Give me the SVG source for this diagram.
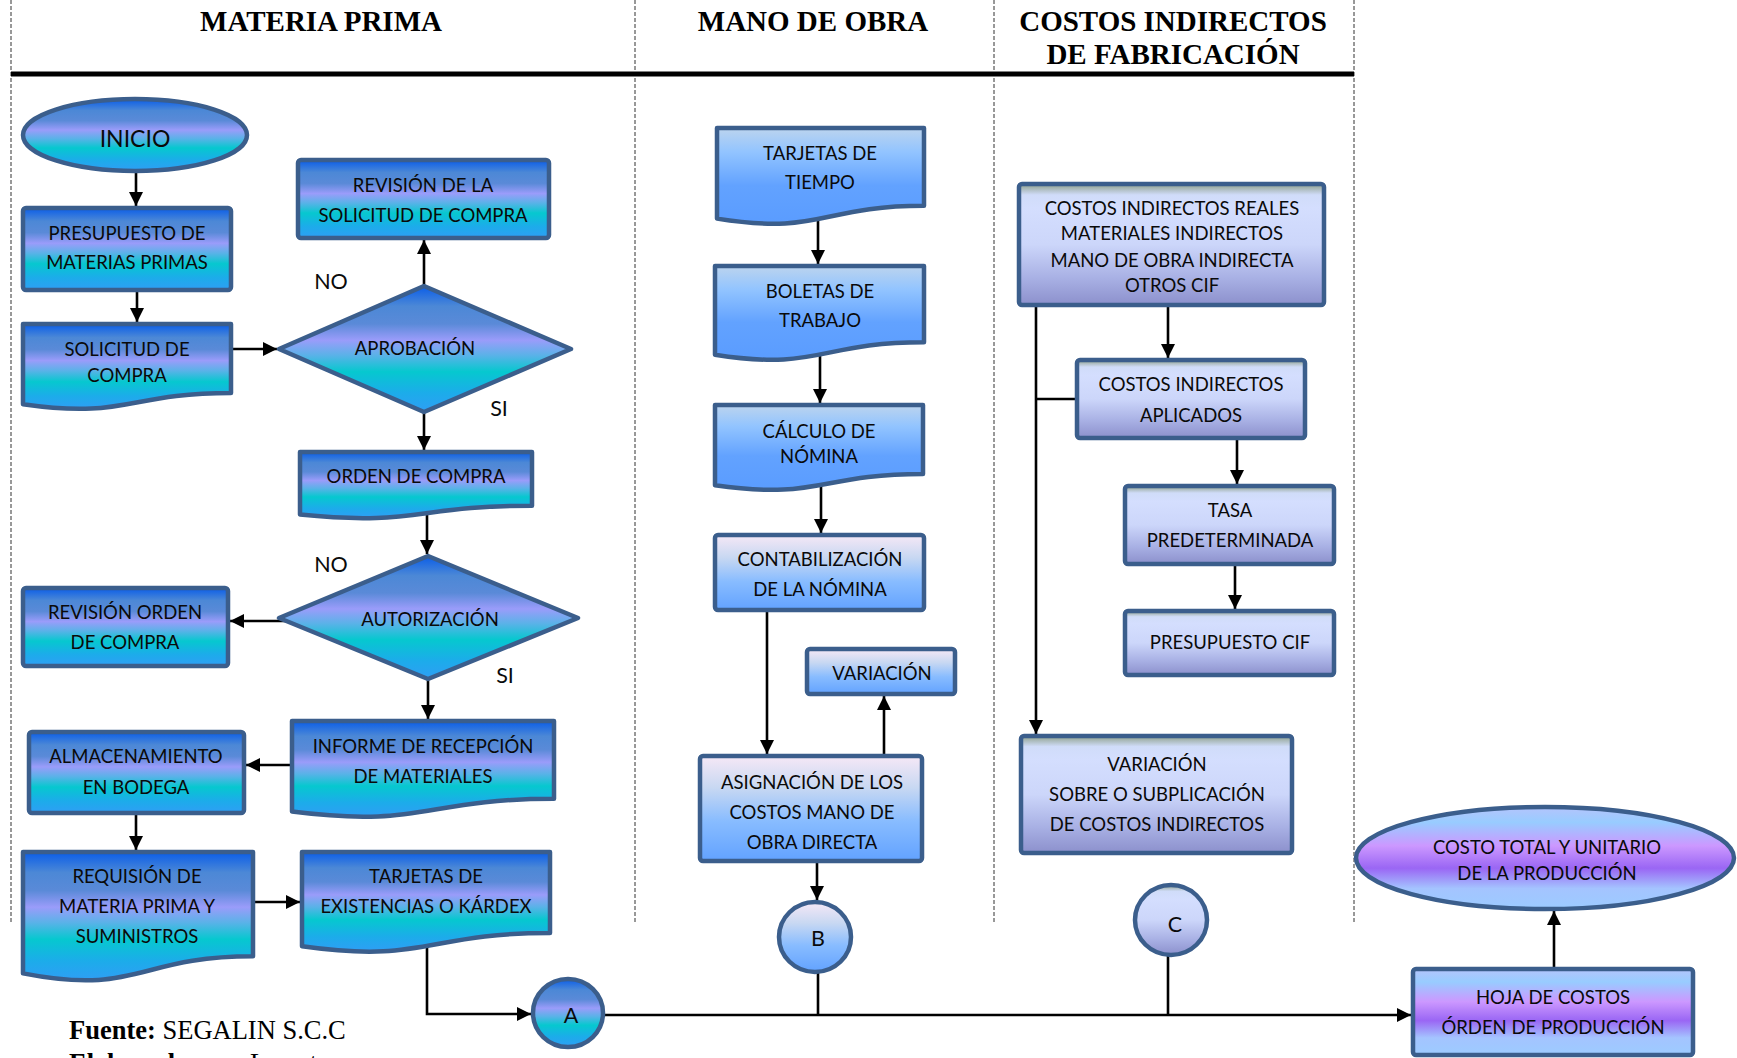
<svg xmlns="http://www.w3.org/2000/svg" width="1737" height="1058" viewBox="0 0 1737 1058">
  <defs>
    <!-- raw material lane: ocean blue / lavender / turquoise -->
    <linearGradient id="gMP" x1="0" y1="0" x2="0" y2="1">
      <stop offset="0" stop-color="#0a5de8"/>
      <stop offset="0.16" stop-color="#4c88d6"/>
      <stop offset="0.3" stop-color="#5a8ad8"/>
      <stop offset="0.43" stop-color="#9a9cfa"/>
      <stop offset="0.55" stop-color="#5ab2e8"/>
      <stop offset="0.68" stop-color="#06c8cf"/>
      <stop offset="0.85" stop-color="#1cacea"/>
      <stop offset="1" stop-color="#2f9ef5"/>
    </linearGradient>
    <!-- labour lane: light blue -->
    <linearGradient id="gMO1" x1="0" y1="0" x2="0" y2="1">
      <stop offset="0" stop-color="#bcd4ee"/>
      <stop offset="0.25" stop-color="#92c4ff"/>
      <stop offset="0.6" stop-color="#62a2ff"/>
      <stop offset="1" stop-color="#5a9cff"/>
    </linearGradient>
    <!-- labour lane: pale pink to blue -->
    <linearGradient id="gMO2" x1="0" y1="0" x2="0" y2="1">
      <stop offset="0" stop-color="#f6e8f6"/>
      <stop offset="0.3" stop-color="#c8d8f2"/>
      <stop offset="0.62" stop-color="#88bcff"/>
      <stop offset="1" stop-color="#62a2ff"/>
    </linearGradient>
    <!-- overhead lane: periwinkle -->
    <linearGradient id="gCIF" x1="0" y1="0" x2="0" y2="1">
      <stop offset="0" stop-color="#8ea08a"/>
      <stop offset="0.09" stop-color="#d0dcf9"/>
      <stop offset="0.2" stop-color="#d4defe"/>
      <stop offset="0.5" stop-color="#ccd6fa"/>
      <stop offset="0.78" stop-color="#a8b0e4"/>
      <stop offset="1" stop-color="#8c90cc"/>
    </linearGradient>
    <!-- totals: sky blue / violet -->
    <linearGradient id="gTOT" x1="0" y1="0" x2="0" y2="1">
      <stop offset="0" stop-color="#b4c4fc"/>
      <stop offset="0.15" stop-color="#98ccff"/>
      <stop offset="0.38" stop-color="#cc98ff"/>
      <stop offset="0.6" stop-color="#9a66f4"/>
      <stop offset="0.8" stop-color="#a4c4ff"/>
      <stop offset="1" stop-color="#9ccbff"/>
    </linearGradient>
    <marker id="arrow" markerUnits="userSpaceOnUse" markerWidth="15" markerHeight="15" refX="14" refY="7" orient="auto">
      <path d="M0,0 L14,7 L0,14 Z" fill="#000"/>
    </marker>
  </defs>
  <style>
    .node { stroke: #3b5e8c; stroke-width: 4.5; stroke-linejoin: round; }
    .mp { fill: url(#gMP); }
    .mo1 { fill: url(#gMO1); }
    .mo2 { fill: url(#gMO2); }
    .cif { fill: url(#gCIF); }
    .tot { fill: url(#gTOT); }
    .t { font-family: Lato, "Liberation Sans", sans-serif; font-size: 18.5px; fill: #0a0a0a; text-anchor: middle; }
    .big { font-size: 23px; }
    .lbl { font-family: Lato, "Liberation Sans", sans-serif; font-size: 21.5px; fill: #0a0a0a; text-anchor: middle; }
    .hdr { font-family: "Liberation Serif", "Times New Roman", serif; font-size: 29px; font-weight: bold; fill: #000; text-anchor: middle; }
    .note { font-family: "Liberation Serif", "Times New Roman", serif; font-size: 26.5px; fill: #000; }
    .lane { stroke: #333; stroke-width: 1; stroke-dasharray: 4 2; fill: none; }
    .conn { stroke: #000; stroke-width: 2.6; fill: none; }
    .conn.a { marker-end: url(#arrow); }
  </style>

  <rect width="1737" height="1058" fill="#fff"/>

  <!-- swimlane frame -->
  <g id="lanes">
    <line class="lane" x1="11" y1="0" x2="11" y2="923"/>
    <line class="lane" x1="635" y1="0" x2="635" y2="923"/>
    <line class="lane" x1="994" y1="0" x2="994" y2="923"/>
    <line class="lane" x1="1354" y1="0" x2="1354" y2="923"/>
    <line x1="11" y1="74" x2="1354" y2="74" stroke="#000" stroke-width="5"/>
    <text class="hdr" x="321" y="31">MATERIA PRIMA</text>
    <text class="hdr" x="813" y="31">MANO DE OBRA</text>
    <text class="hdr" x="1173" y="31">COSTOS INDIRECTOS</text>
    <text class="hdr" x="1173" y="64">DE FABRICACIÓN</text>
  </g>

  <!-- connectors -->
  <g id="connectors">
    <path class="conn a" d="M136 165 V206"/>
    <path class="conn a" d="M137 285 V322"/>
    <path class="conn a" d="M225 349 H277"/>
    <path class="conn a" d="M424 320 V240"/>
    <path class="conn a" d="M424 400 V450"/>
    <path class="conn a" d="M427 505 V554"/>
    <path class="conn a" d="M300 621 H230"/>
    <path class="conn a" d="M428 660 V719"/>
    <path class="conn a" d="M300 765 H246"/>
    <path class="conn a" d="M136 800 V850"/>
    <path class="conn a" d="M245 902 H300"/>
    <path class="conn a" d="M427 940 V1014 H531"/>
    <path class="conn a" d="M600 1015 H1411"/>
    <path class="conn" d="M818 965 V1015"/>
    <path class="conn" d="M1168 950 V1015"/>
    <path class="conn a" d="M1554 990 V911"/>
    <path class="conn a" d="M818 210 V264"/>
    <path class="conn a" d="M820 345 V403"/>
    <path class="conn a" d="M821 480 V533"/>
    <path class="conn a" d="M767 600 V754"/>
    <path class="conn a" d="M884 770 V696"/>
    <path class="conn a" d="M817 850 V900"/>
    <path class="conn a" d="M1168 300 V358"/>
    <path class="conn a" d="M1237 430 V484"/>
    <path class="conn a" d="M1235 560 V609"/>
    <path class="conn a" d="M1036 300 V734"/>
    <path class="conn" d="M1036 399 H1080"/>
  </g>

  <!-- raw material lane -->
  <g id="inicio">
    <ellipse class="node mp" cx="135" cy="135" rx="112" ry="36"/>
    <text class="t big" x="135" y="147">INICIO</text>
  </g>
  <g id="presupuesto-mp">
    <rect class="node mp" x="23" y="208" width="208" height="82" rx="3"/>
    <text class="t" x="127" y="240">PRESUPUESTO DE</text>
    <text class="t" x="127" y="269">MATERIAS PRIMAS</text>
  </g>
  <g id="solicitud-compra">
    <path class="node mp" d="M23 324 H231 V393 C127 393 127 419.2 23 404.3 Z"/>
    <text class="t" x="127" y="356">SOLICITUD DE</text>
    <text class="t" x="127" y="382">COMPRA</text>
  </g>
  <g id="revision-solicitud">
    <rect class="node mp" x="298" y="160" width="251" height="78" rx="3"/>
    <text class="t" x="423" y="192">REVISIÓN DE LA</text>
    <text class="t" x="423" y="222">SOLICITUD DE COMPRA</text>
  </g>
  <g id="aprobacion">
    <path class="node mp" d="M279 349 L424 286 L571 349 L424 412 Z"/>
    <text class="t" x="415" y="355">APROBACIÓN</text>
  </g>
  <g id="orden-compra">
    <path class="node mp" d="M300 452 H532 V505.7 C416 505.7 416 526.2 300 514.6 Z"/>
    <text class="t" x="416" y="483">ORDEN DE COMPRA</text>
  </g>
  <g id="autorizacion">
    <path class="node mp" d="M279 618 L428 556 L578 618 L428 679 Z"/>
    <text class="t" x="430" y="626">AUTORIZACIÓN</text>
  </g>
  <g id="revision-orden">
    <rect class="node mp" x="23" y="588" width="205" height="78" rx="3"/>
    <text class="t" x="125" y="619">REVISIÓN ORDEN</text>
    <text class="t" x="125" y="649">DE COMPRA</text>
  </g>
  <g id="informe-recepcion">
    <path class="node mp" d="M292 721 H554 V798.8 C423 798.8 423 828.4 292 811.6 Z"/>
    <text class="t" x="423" y="753">INFORME DE RECEPCIÓN</text>
    <text class="t" x="423" y="783">DE MATERIALES</text>
  </g>
  <g id="almacenamiento">
    <rect class="node mp" x="29" y="732" width="215" height="81" rx="3"/>
    <text class="t" x="136" y="763">ALMACENAMIENTO</text>
    <text class="t" x="136" y="794">EN BODEGA</text>
  </g>
  <g id="requisicion">
    <path class="node mp" d="M23 852 H253 V956.3 C138 956.3 138 996 23 973.4 Z"/>
    <text class="t" x="137" y="883">REQUISIÓN DE</text>
    <text class="t" x="137" y="913">MATERIA PRIMA Y</text>
    <text class="t" x="137" y="943">SUMINISTROS</text>
  </g>
  <g id="kardex">
    <path class="node mp" d="M302 852 H550 V933 C426 933 426 963.9 302 946.3 Z"/>
    <text class="t" x="426" y="883">TARJETAS DE</text>
    <text class="t" x="426" y="913">EXISTENCIAS O KÁRDEX</text>
  </g>
  <g id="conector-a">
    <ellipse class="node mp" cx="568" cy="1013" rx="35" ry="34"/>
    <text class="lbl" x="571" y="1023">A</text>
  </g>

  <!-- decision labels -->
  <g id="decision-labels">
    <text class="lbl" x="331" y="289">NO</text>
    <text class="lbl" x="499" y="416">SI</text>
    <text class="lbl" x="331" y="572">NO</text>
    <text class="lbl" x="505" y="683">SI</text>
  </g>

  <!-- labour lane -->
  <g id="tarjetas-tiempo">
    <path class="node mo1" d="M717 128 H924 V205.8 C820.5 205.8 820.5 235.4 717 218.6 Z"/>
    <text class="t" x="820" y="160">TARJETAS DE</text>
    <text class="t" x="820" y="189">TIEMPO</text>
  </g>
  <g id="boletas">
    <path class="node mo1" d="M715 266 H924 V342.2 C819.5 342.2 819.5 371.2 715 354.7 Z"/>
    <text class="t" x="820" y="298">BOLETAS DE</text>
    <text class="t" x="820" y="327">TRABAJO</text>
  </g>
  <g id="calculo-nomina">
    <path class="node mo1" d="M715 405 H923 V474 C819 474 819 500.2 715 485.3 Z"/>
    <text class="t" x="819" y="438">CÁLCULO DE</text>
    <text class="t" x="819" y="463">NÓMINA</text>
  </g>
  <g id="contabilizacion">
    <rect class="node mo2" x="715" y="535" width="209" height="75" rx="3"/>
    <text class="t" x="820" y="566">CONTABILIZACIÓN</text>
    <text class="t" x="820" y="596">DE LA NÓMINA</text>
  </g>
  <g id="variacion-mo">
    <rect class="node mo2" x="807" y="649" width="148" height="45" rx="3"/>
    <text class="t" x="882" y="680">VARIACIÓN</text>
  </g>
  <g id="asignacion">
    <rect class="node mo2" x="700" y="756" width="222" height="105" rx="3"/>
    <text class="t" x="812" y="789">ASIGNACIÓN DE LOS</text>
    <text class="t" x="812" y="819">COSTOS MANO DE</text>
    <text class="t" x="812" y="849">OBRA DIRECTA</text>
  </g>
  <g id="conector-b">
    <ellipse class="node mo2" cx="815" cy="937" rx="36" ry="35"/>
    <text class="lbl" x="818" y="946">B</text>
  </g>

  <!-- overhead lane -->
  <g id="cif-reales">
    <rect class="node cif" x="1019" y="184" width="305" height="121" rx="3"/>
    <text class="t" x="1172" y="215">COSTOS INDIRECTOS REALES</text>
    <text class="t" x="1172" y="240">MATERIALES INDIRECTOS</text>
    <text class="t" x="1172" y="267">MANO DE OBRA INDIRECTA</text>
    <text class="t" x="1172" y="292">OTROS CIF</text>
  </g>
  <g id="cif-aplicados">
    <rect class="node cif" x="1077" y="360" width="228" height="78" rx="3"/>
    <text class="t" x="1191" y="391">COSTOS INDIRECTOS</text>
    <text class="t" x="1191" y="422">APLICADOS</text>
  </g>
  <g id="tasa">
    <rect class="node cif" x="1125" y="486" width="209" height="78" rx="3"/>
    <text class="t" x="1230" y="517">TASA</text>
    <text class="t" x="1230" y="547">PREDETERMINADA</text>
  </g>
  <g id="presupuesto-cif">
    <rect class="node cif" x="1125" y="611" width="209" height="64" rx="3"/>
    <text class="t" x="1230" y="649">PRESUPUESTO CIF</text>
  </g>
  <g id="variacion-cif">
    <rect class="node cif" x="1021" y="736" width="271" height="117" rx="3"/>
    <text class="t" x="1157" y="771">VARIACIÓN</text>
    <text class="t" x="1157" y="801">SOBRE O SUBPLICACIÓN</text>
    <text class="t" x="1157" y="831">DE COSTOS INDIRECTOS</text>
  </g>
  <g id="conector-c">
    <ellipse class="node cif" cx="1171" cy="920" rx="36" ry="35"/>
    <text class="lbl" x="1175" y="932">C</text>
  </g>

  <!-- totals -->
  <g id="costo-total">
    <ellipse class="node tot" cx="1545" cy="858" rx="189" ry="51"/>
    <text class="t" x="1547" y="854">COSTO TOTAL Y UNITARIO</text>
    <text class="t" x="1547" y="880">DE LA PRODUCCIÓN</text>
  </g>
  <g id="hoja-costos">
    <rect class="node tot" x="1413" y="969" width="280" height="86" rx="3"/>
    <text class="t" x="1553" y="1004">HOJA DE COSTOS</text>
    <text class="t" x="1553" y="1034">ÓRDEN DE PRODUCCIÓN</text>
  </g>

  <!-- source note -->
  <g id="fuente">
    <text class="note" x="69" y="1039"><tspan font-weight="bold">Fuente:</tspan> SEGALIN S.C.C</text>
    <text class="note" x="69" y="1072"><tspan font-weight="bold">Elaborado por:</tspan> La autora</text>
  </g>
</svg>
